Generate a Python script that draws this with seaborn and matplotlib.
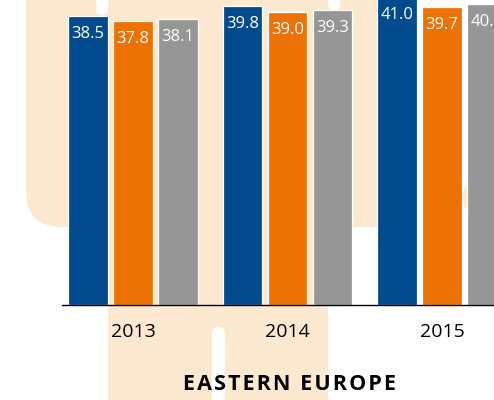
import pandas as pd
import matplotlib.pyplot as plt
import seaborn as sns
from matplotlib.patches import FancyBboxPatch, Rectangle

# Data
years = ['2013', '2014', '2015']
series_names = ['Series 1', 'Series 2', 'Series 3']
series_1 = [38.5, 39.8, 41.0]
series_2 = [37.8, 39.0, 39.7]
series_3 = [38.1, 39.3, 40.1]

colors = ['#004B8D', '#EE7203', '#969696']
peach = '#FDE8D0'

df = pd.DataFrame({
    'year': years * 3,
    'series': [series_names[0]] * 3 + [series_names[1]] * 3 + [series_names[2]] * 3,
    'value': series_1 + series_2 + series_3,
})

sns.set_style('white')
plt.rcParams['font.family'] = ['Open Sans', 'DejaVu Sans']

fig = plt.figure(figsize=(4.94, 4.0), dpi=100)
ax = fig.add_axes([62 / 494, 95 / 400, 1 - 62 / 494, 305 / 400])
ax.set_facecolor('none')


# background decoration, drawn in pixel units (y measured from the top)
def deco(x0, y0, x1, y1, r=0.0, color=peach):
    x, y = x0 / 100, (400 - y1) / 100
    w, h = (x1 - x0) / 100, (y1 - y0) / 100
    if r > 0:
        p = FancyBboxPatch((x, y), w, h, boxstyle=f'round,pad=0,rounding_size={r / 100}',
                           transform=fig.dpi_scale_trans, fc=color, ec='none', zorder=-1)
    else:
        p = Rectangle((x, y), w, h, transform=fig.dpi_scale_trans,
                      fc=color, ec='none', zorder=-1)
    fig.patches.append(p)


deco(26, -60, 112, 227, r=36)
deco(108, -60, 328, 460)
deco(320, -60, 400, 227, r=26)
deco(463, 180, 520, 215, r=17)
deco(96, -20, 108, 15, r=6, color='white')
deco(328, -20, 340, 10, r=6, color='white')
deco(212, 327, 225, 460, r=6.5, color='white')

sns.barplot(data=df, x='year', y='value', hue='series', palette=colors,
            saturation=1, width=0.874, gap=0.12, edgecolor='white', linewidth=0.9,
            legend=False, ax=ax)

for bar in ax.patches:
    h = bar.get_height()
    ax.annotate(f'{h:.1f}', xy=(bar.get_x() + bar.get_width() / 2, h),
                xytext=(0, -7), textcoords='offset points',
                ha='center', va='top', color='white', fontsize=12,
                annotation_clip=False)

ax.set_ylim(0, 305 / 7.51)
ax.set_xlim(-0.46, 2.337)
ax.set_xlabel('')
ax.set_ylabel('')
ax.set_yticks([])
ax.tick_params(axis='x', length=0, pad=13, labelsize=14, labelcolor='black')
for side in ['top', 'right', 'left']:
    ax.spines[side].set_visible(False)
ax.spines['bottom'].set_color('black')
ax.spines['bottom'].set_linewidth(1.0)

fig.text(289 / 494, 1 - 384 / 400, '\u200a'.join('EASTERN EUROPE'),
         ha='center', va='center', fontsize=15.5, fontweight='bold', color='black')

fig.savefig('out.png', dpi=100)
